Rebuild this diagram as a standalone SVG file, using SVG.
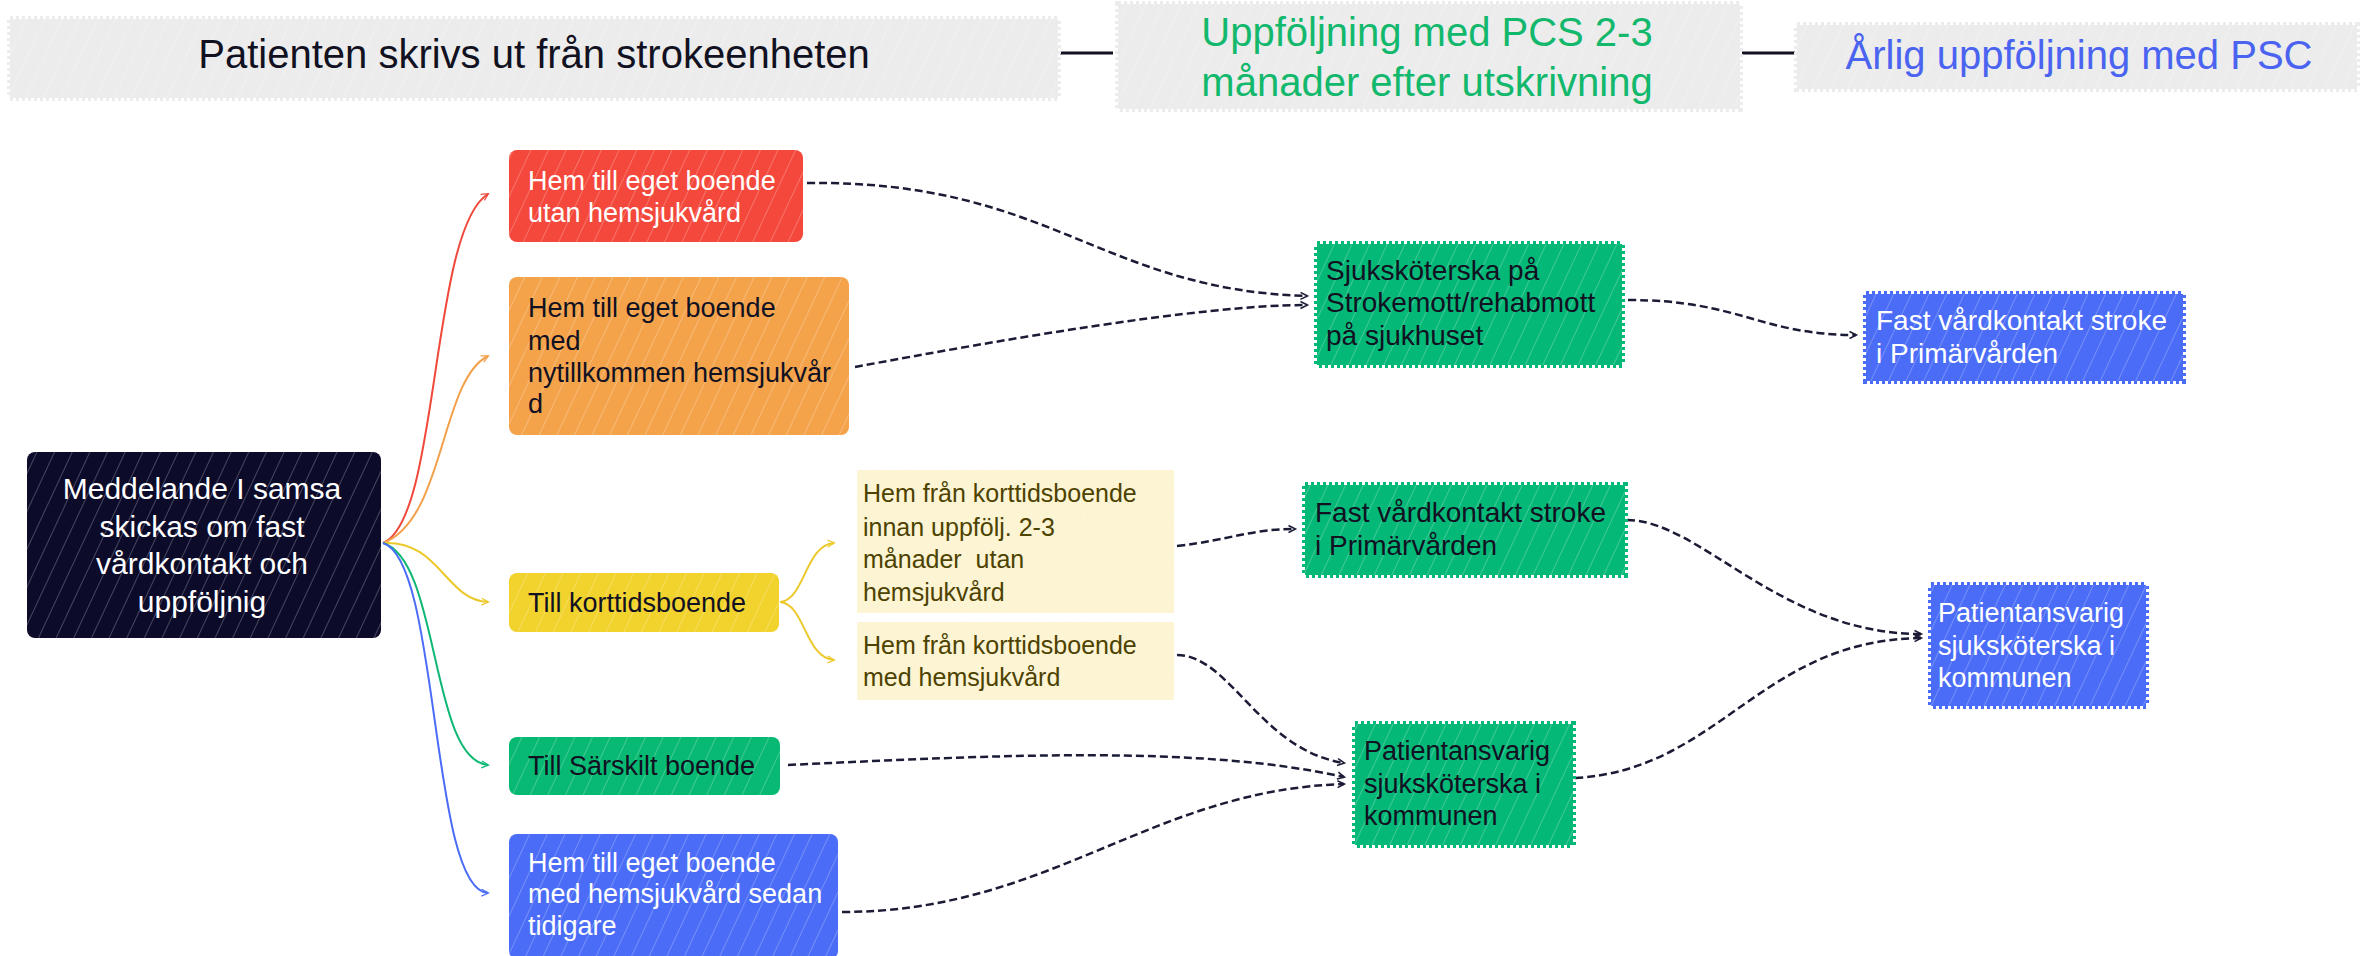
<svg xmlns="http://www.w3.org/2000/svg" width="2374" height="956" viewBox="0 0 2374 956">
<style>
  text { font-family: "Liberation Sans", "DejaVu Sans", sans-serif; }
  .hdr { font-size: 40px; text-anchor: middle; }
  .nt { font-size: 27px; }
  .ntl { font-size: 25px; }
  .ntf { font-size: 28px; }
  .big { font-size: 30px; text-anchor: middle; fill: #ffffff; }
  .white { fill: #ffffff; }
  .black { fill: #111122; }
  .olive { fill: #4d4200; }
  .hatch { fill: url(#hatch); }
  .dash { fill: none; stroke: #1b1b36; stroke-width: 2.5; stroke-dasharray: 8 4; marker-end: url(#arrD); }
  .solid { fill: none; stroke-width: 2; }
  .jagG { stroke: #04b877; stroke-width: 6; stroke-dasharray: 3 3; }
  .jagB { stroke: #4a6cf7; stroke-width: 6; stroke-dasharray: 3 3; }
  .jagH { stroke: #ececec; stroke-width: 6; stroke-dasharray: 3 3; }
</style>
<defs>
  <pattern id="hatch" patternUnits="userSpaceOnUse" width="16" height="16" patternTransform="rotate(25)">
    <line x1="0" y1="0" x2="0" y2="16" stroke="#ffffff" stroke-width="1.4" stroke-opacity="0.35"/>
  </pattern>
  <marker id="arrD" viewBox="0 0 10 10" refX="9" refY="5" markerWidth="5" markerHeight="5" orient="auto" markerUnits="userSpaceOnUse" overflow="visible">
    <path d="M-4,-2 L10,5 L-4,12" fill="none" stroke="#1b1b36" stroke-width="3"/>
  </marker>
  <marker id="arrR" viewBox="0 0 10 10" refX="9" refY="5" markerWidth="5" markerHeight="5" orient="auto" markerUnits="userSpaceOnUse" overflow="visible">
    <path d="M-4,-2 L10,5 L-4,12" fill="none" stroke="#f0483a" stroke-width="2.5"/>
  </marker>
  <marker id="arrO" viewBox="0 0 10 10" refX="9" refY="5" markerWidth="5" markerHeight="5" orient="auto" markerUnits="userSpaceOnUse" overflow="visible">
    <path d="M-4,-2 L10,5 L-4,12" fill="none" stroke="#f3a04a" stroke-width="2.5"/>
  </marker>
  <marker id="arrY" viewBox="0 0 10 10" refX="9" refY="5" markerWidth="5" markerHeight="5" orient="auto" markerUnits="userSpaceOnUse" overflow="visible">
    <path d="M-4,-2 L10,5 L-4,12" fill="none" stroke="#ecc92a" stroke-width="2.5"/>
  </marker>
  <marker id="arrG" viewBox="0 0 10 10" refX="9" refY="5" markerWidth="5" markerHeight="5" orient="auto" markerUnits="userSpaceOnUse" overflow="visible">
    <path d="M-4,-2 L10,5 L-4,12" fill="none" stroke="#0fb874" stroke-width="2.5"/>
  </marker>
  <marker id="arrB" viewBox="0 0 10 10" refX="9" refY="5" markerWidth="5" markerHeight="5" orient="auto" markerUnits="userSpaceOnUse" overflow="visible">
    <path d="M-4,-2 L10,5 L-4,12" fill="none" stroke="#4a6cf7" stroke-width="2.5"/>
  </marker>
</defs>
<rect x="0" y="0" width="2374" height="956" fill="#ffffff"/>

<g id="connectors">
  <line x1="1060" y1="53" x2="1113" y2="53" stroke="#111122" stroke-width="3"/>
  <line x1="1742" y1="53" x2="1795" y2="53" stroke="#111122" stroke-width="3"/>
  <path class="solid" stroke="#f0483a" marker-end="url(#arrR)" d="M383,543 C440,520 430,230 488,194"/>
  <path class="solid" stroke="#f3a04a" marker-end="url(#arrO)" d="M383,543 C445,520 440,380 488,356"/>
  <path class="solid" stroke="#ecc92a" marker-end="url(#arrY)" d="M383,543 C440,540 445,600 488,602"/>
  <path class="solid" stroke="#0fb874" marker-end="url(#arrG)" d="M383,543 C440,560 430,760 488,765"/>
  <path class="solid" stroke="#4a6cf7" marker-end="url(#arrB)" d="M383,543 C440,560 430,890 488,893"/>
  <path class="solid" stroke="#ecc92a" marker-end="url(#arrY)" d="M780,602 C805,600 805,545 834,543"/>
  <path class="solid" stroke="#ecc92a" marker-end="url(#arrY)" d="M780,602 C805,604 805,658 834,660"/>
  <path class="dash" d="M807,183 C1050,180 1100,290 1307,296"/>
  <path class="dash" d="M855,367 C1000,340 1200,305 1307,305"/>
  <path class="dash" d="M1628,300 C1740,300 1760,335 1856,335"/>
  <path class="dash" d="M1177,546 C1230,540 1250,529 1295,529"/>
  <path class="dash" d="M1627,520 C1700,520 1780,634 1921,634"/>
  <path class="dash" d="M1575,778 C1720,770 1760,640 1921,638"/>
  <path class="dash" d="M1177,655 C1230,655 1260,750 1344,763"/>
  <path class="dash" d="M788,765 C1000,755 1200,745 1344,777"/>
  <path class="dash" d="M842,912 C1050,912 1150,790 1344,784"/>
</g>

<g id="header1">
  <rect class="jagH" x="10" y="19" width="1048" height="79" fill="#ececec"/>
  <rect x="10" y="19" width="1048" height="79" class="hatch"/>
  <text class="hdr black" x="534" y="68">Patienten skrivs ut från strokeenheten</text>
</g>
<g id="header2">
  <rect class="jagH" x="1118" y="4" width="622" height="105" fill="#ececec"/>
  <rect x="1118" y="4" width="622" height="105" class="hatch"/>
  <text class="hdr" fill="#12b86c" x="1427" y="46">Uppföljning med PCS 2-3</text>
  <text class="hdr" fill="#12b86c" x="1427" y="96">månader efter utskrivning</text>
</g>
<g id="header3">
  <rect class="jagH" x="1797" y="25" width="560" height="64" fill="#ececec"/>
  <rect x="1797" y="25" width="560" height="64" class="hatch"/>
  <text class="hdr" fill="#4a63f0" x="2079" y="69">Årlig uppföljning med PSC</text>
</g>

<g id="source">
  <rect x="27" y="452" width="354" height="186" rx="8" fill="#0c0b2a"/>
  <rect x="27" y="452" width="354" height="186" rx="8" class="hatch"/>
  <text class="big"><tspan x="202" y="499">Meddelande I samsa</tspan><tspan x="202" y="537">skickas om fast</tspan><tspan x="202" y="574">vårdkontakt och</tspan><tspan x="202" y="612">uppföljnig</tspan></text>
</g>

<g id="red">
  <rect x="509" y="150" width="294" height="92" rx="8" fill="#f4483c"/>
  <rect x="509" y="150" width="294" height="92" rx="8" class="hatch"/>
  <text class="nt white"><tspan x="528" y="190">Hem till eget boende</tspan><tspan x="528" y="222">utan hemsjukvård</tspan></text>
</g>
<g id="orange">
  <rect x="509" y="277" width="340" height="158" rx="8" fill="#f4a34b"/>
  <rect x="509" y="277" width="340" height="158" rx="8" class="hatch"/>
  <text class="nt black"><tspan x="528" y="317">Hem till eget boende</tspan><tspan x="528" y="350">med</tspan><tspan x="528" y="382">nytillkommen hemsjukvår</tspan><tspan x="528" y="413">d</tspan></text>
</g>
<g id="yellow">
  <rect x="509" y="573" width="270" height="59" rx="8" fill="#f2d22c"/>
  <rect x="509" y="573" width="270" height="59" rx="8" class="hatch"/>
  <text class="nt black" x="528" y="612">Till korttidsboende</text>
</g>
<g id="lightA">
  <rect x="857" y="470" width="317" height="143" fill="#fcf4d2"/>
  <rect x="857" y="470" width="317" height="143" class="hatch"/>
  <text class="ntl olive"><tspan x="863" y="502">Hem från korttidsboende</tspan><tspan x="863" y="536">innan uppfölj. 2-3</tspan><tspan x="863" y="568">månader&#160; utan</tspan><tspan x="863" y="601">hemsjukvård</tspan></text>
</g>
<g id="lightB">
  <rect x="857" y="622" width="317" height="78" fill="#fcf4d2"/>
  <rect x="857" y="622" width="317" height="78" class="hatch"/>
  <text class="ntl olive"><tspan x="863" y="654">Hem från korttidsboende</tspan><tspan x="863" y="686">med hemsjukvård</tspan></text>
</g>
<g id="greenSarskilt">
  <rect x="509" y="737" width="271" height="58" rx="8" fill="#07b973"/>
  <rect x="509" y="737" width="271" height="58" rx="8" class="hatch"/>
  <text class="nt black" x="528" y="775">Till Särskilt boende</text>
</g>
<g id="blueBottom">
  <rect x="509" y="834" width="329" height="125" rx="8" fill="#4a6cf7"/>
  <rect x="509" y="834" width="329" height="125" rx="8" class="hatch"/>
  <text class="nt white"><tspan x="528" y="872">Hem till eget boende</tspan><tspan x="528" y="903">med hemsjukvård sedan</tspan><tspan x="528" y="935">tidigare</tspan></text>
</g>

<g id="green1">
  <rect class="jagG" x="1317" y="244" width="305" height="121" fill="#04b877"/>
  <rect x="1317" y="244" width="305" height="121" class="hatch"/>
  <text class="ntf black"><tspan x="1326" y="280">Sjuksköterska på</tspan><tspan x="1326" y="312">Strokemott/rehabmott</tspan><tspan x="1326" y="345">på sjukhuset</tspan></text>
</g>
<g id="blue1">
  <rect class="jagB" x="1866" y="294" width="317" height="87" fill="#4a6cf7"/>
  <rect x="1866" y="294" width="317" height="87" class="hatch"/>
  <text class="ntf white"><tspan x="1876" y="330">Fast vårdkontakt stroke</tspan><tspan x="1876" y="363">i Primärvården</tspan></text>
</g>
<g id="greenFast">
  <rect class="jagG" x="1305" y="485" width="320" height="90" fill="#04b877"/>
  <rect x="1305" y="485" width="320" height="90" class="hatch"/>
  <text class="ntf black"><tspan x="1315" y="522">Fast vårdkontakt stroke</tspan><tspan x="1315" y="555">i Primärvården</tspan></text>
</g>
<g id="green2">
  <rect class="jagG" x="1355" y="724" width="218" height="121" fill="#04b877"/>
  <rect x="1355" y="724" width="218" height="121" class="hatch"/>
  <text class="nt black"><tspan x="1364" y="760">Patientansvarig</tspan><tspan x="1364" y="793">sjuksköterska i</tspan><tspan x="1364" y="825">kommunen</tspan></text>
</g>
<g id="blue2">
  <rect class="jagB" x="1931" y="585" width="215" height="121" fill="#4a6cf7"/>
  <rect x="1931" y="585" width="215" height="121" class="hatch"/>
  <text class="nt white"><tspan x="1938" y="622">Patientansvarig</tspan><tspan x="1938" y="655">sjuksköterska i</tspan><tspan x="1938" y="687">kommunen</tspan></text>
</g>
</svg>
